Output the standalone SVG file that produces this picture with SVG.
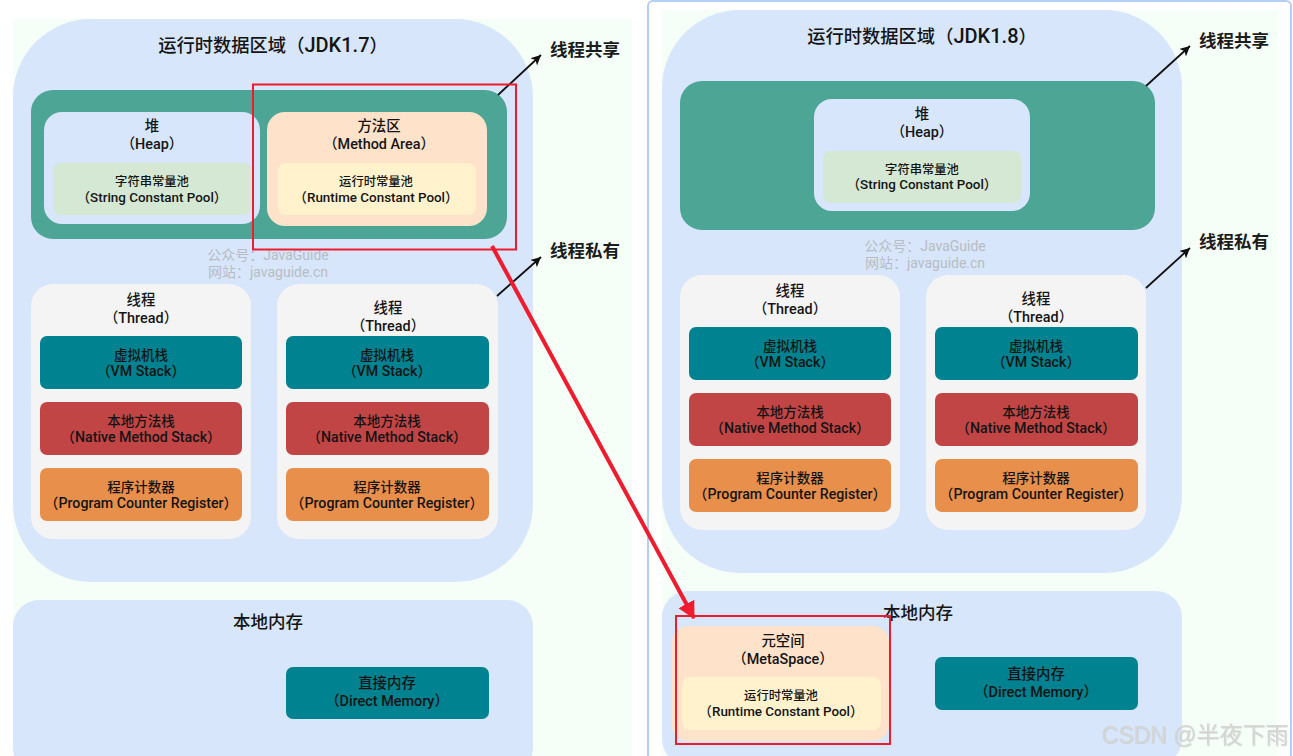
<svg xmlns="http://www.w3.org/2000/svg" width="1293" height="756" viewBox="0 0 1293 756">
<style>
text{font-family:Roboto,"Noto Sans CJK SC",sans-serif;font-weight:500;fill:#141414;text-anchor:middle}
.t{font-size:18.300px}.t tspan{font-size:20px}.l{font-size:17.500px;font-weight:700;text-anchor:start;fill:#1c1c1c}.h{font-size:14.400px}.s{font-size:12.300px}.sl{font-size:13.400px}.n{font-size:13.500px}.nl{font-size:14.200px}.m{font-size:17.500px}
.w{font-size:14px;fill:#b9bcc2;font-weight:400}
.bg{fill:#f5fff7}.o{fill:#d7e6fb}.g{fill:#4da595}.sp{fill:#d5e8d4}.or{fill:#ffe2ca}.ye{fill:#fff2cc}.th{fill:#f4f4f4}.vm{fill:#008290}.na{fill:#c24545}.pc{fill:#e98f4c}
.a{stroke:#111;stroke-width:1.800;fill:none;marker-end:url(#b)}
.r{fill:none;stroke:#ee1c2e;stroke-width:2}
</style>
<defs>
<marker id="b" markerUnits="userSpaceOnUse" markerWidth="12" markerHeight="12" refX="10" refY="5" orient="auto"><path d="M0 0L10 5L0 10L2.500 5Z" fill="#111"/></marker>
<marker id="rh" markerUnits="userSpaceOnUse" markerWidth="20" markerHeight="20" refX="16" refY="10" orient="auto"><path d="M0 1L17 10L0 19Z" fill="#ee1c2e"/></marker>
<filter id="sh" x="-5%" y="-20%" width="110%" height="140%"><feDropShadow dx="0.600" dy="0.600" stdDeviation="0.600" flood-color="#a8a8a8" flood-opacity="0.500"/></filter>
</defs>
<rect width="1293" height="756" fill="#fff"/>
<g id="left-panel">
<rect class="bg" x="13" y="19" width="619" height="737"/>
<rect class="o" x="13" y="19" width="520" height="563" rx="78"/>
<text class="t" x="273" y="52">运行时数据区域（<tspan>JDK1.7</tspan>）</text>
<text class="w" x="268" y="260">公众号：JavaGuide</text>
<text class="w" x="268" y="277">网站：javaguide.cn</text>
</g>
<g id="shared-17">
<rect class="g" x="31" y="90" width="476" height="149" rx="22"/>
</g>
<g id="heap-17">
<rect class="o" x="44" y="112" width="216" height="112" rx="18"/>
<text class="h" x="152" y="131">堆</text><text class="h" x="152" y="149">（Heap）</text>
<rect class="sp" x="53" y="163" width="198" height="52" rx="8"/>
<text class="s" x="152" y="186">字符串常量池</text><text class="sl" x="152" y="202">（String Constant Pool）</text>
</g>
<g id="method-17">
<rect class="or" x="267" y="112" width="220" height="114" rx="18"/>
<text class="h" x="379" y="131">方法区</text><text class="h" x="379" y="149">（Method Area）</text>
<rect class="ye" x="278" y="163" width="198" height="52" rx="8"/>
<text class="s" x="376" y="186">运行时常量池</text><text class="sl" x="376" y="202">（Runtime Constant Pool）</text>
</g>
<g id="thread-17-a">
<rect class="th" x="31" y="284" width="220" height="255" rx="22"/>
<text class="h" x="141" y="305">线程</text><text class="h" x="141" y="323">（Thread）</text>
<rect class="vm" x="40" y="336" width="202" height="53" rx="7"/>
<text class="n" x="141" y="360">虚拟机栈</text><text class="nl" x="141" y="375.500">（VM Stack）</text>
<rect class="na" x="40" y="402" width="202" height="53" rx="7"/>
<text class="n" x="141" y="426">本地方法栈</text><text class="nl" x="141" y="441.500">（Native Method Stack）</text>
<rect class="pc" x="40" y="468" width="202" height="53" rx="7"/>
<text class="n" x="141" y="492">程序计数器</text><text class="nl" x="141" y="507.500">（Program Counter Register）</text>
</g>
<g id="thread-17-b">
<rect class="th" x="277" y="284" width="221" height="255" rx="22"/>
<text class="h" x="388" y="313">线程</text><text class="h" x="388" y="331">（Thread）</text>
<rect class="vm" x="286" y="336" width="203" height="53" rx="7"/>
<text class="n" x="387" y="360">虚拟机栈</text><text class="nl" x="387" y="375.500">（VM Stack）</text>
<rect class="na" x="286" y="402" width="203" height="53" rx="7"/>
<text class="n" x="387" y="426">本地方法栈</text><text class="nl" x="387" y="441.500">（Native Method Stack）</text>
<rect class="pc" x="286" y="468" width="203" height="53" rx="7"/>
<text class="n" x="387" y="492">程序计数器</text><text class="nl" x="387" y="507.500">（Program Counter Register）</text>
</g>
<g id="native-17">
<rect class="o" x="13" y="600" width="520" height="174" rx="26"/>
<text class="m" x="268" y="628">本地内存</text>
<rect class="vm" x="286" y="667" width="203" height="52" rx="7"/>
<text class="h" x="387" y="688">直接内存</text><text class="h" x="387" y="706">（Direct Memory）</text>
</g>
<g id="right-panel">
<path d="M648 756V6a5 5 0 0 1 5-5H1286a5 5 0 0 1 5 5V756" fill="none" stroke="#b4cff5" stroke-width="2"/>
<rect class="bg" x="662" y="10" width="616" height="746"/>
<rect class="o" x="662" y="10" width="520" height="563" rx="78"/>
<text class="t" x="922" y="43">运行时数据区域（<tspan>JDK1.8</tspan>）</text>
<text class="w" x="925" y="251">公众号：JavaGuide</text>
<text class="w" x="925" y="268">网站：javaguide.cn</text>
</g>
<g id="shared-18">
<rect class="g" x="680" y="81" width="475" height="149" rx="22"/>
</g>
<g id="heap-18">
<rect class="o" x="814" y="99" width="216" height="112" rx="18"/>
<text class="h" x="922" y="119">堆</text><text class="h" x="922" y="137">（Heap）</text>
<rect class="sp" x="823" y="151" width="198" height="52" rx="8"/>
<text class="s" x="922" y="174">字符串常量池</text><text class="sl" x="922" y="189">（String Constant Pool）</text>
</g>
<g id="thread-18-a">
<rect class="th" x="680" y="275" width="220" height="255" rx="22"/>
<text class="h" x="790" y="296">线程</text><text class="h" x="790" y="314">（Thread）</text>
<rect class="vm" x="689" y="327" width="202" height="53" rx="7"/>
<text class="n" x="790" y="351">虚拟机栈</text><text class="nl" x="790" y="366.500">（VM Stack）</text>
<rect class="na" x="689" y="393" width="202" height="53" rx="7"/>
<text class="n" x="790" y="417">本地方法栈</text><text class="nl" x="790" y="432.500">（Native Method Stack）</text>
<rect class="pc" x="689" y="459" width="202" height="53" rx="7"/>
<text class="n" x="790" y="483">程序计数器</text><text class="nl" x="790" y="498.500">（Program Counter Register）</text>
</g>
<g id="thread-18-b">
<rect class="th" x="926" y="275" width="220" height="255" rx="22"/>
<text class="h" x="1036" y="304">线程</text><text class="h" x="1036" y="322">（Thread）</text>
<rect class="vm" x="935" y="327" width="203" height="53" rx="7"/>
<text class="n" x="1036" y="351">虚拟机栈</text><text class="nl" x="1036" y="366.500">（VM Stack）</text>
<rect class="na" x="935" y="393" width="203" height="53" rx="7"/>
<text class="n" x="1036" y="417">本地方法栈</text><text class="nl" x="1036" y="432.500">（Native Method Stack）</text>
<rect class="pc" x="935" y="459" width="203" height="53" rx="7"/>
<text class="n" x="1036" y="483">程序计数器</text><text class="nl" x="1036" y="498.500">（Program Counter Register）</text>
</g>
<g id="native-18">
<rect class="o" x="662" y="591" width="520" height="174" rx="26"/>
<text class="m" x="918" y="619">本地内存</text>
</g>
<g id="metaspace">
<rect class="or" x="672" y="626" width="217" height="115" rx="16"/>
<text class="h" x="783" y="646">元空间</text><text class="h" x="783" y="664">（MetaSpace）</text>
<rect class="ye" x="682" y="677" width="199" height="53" rx="8"/>
<text class="s" x="781" y="700">运行时常量池</text><text class="sl" x="781" y="716">（Runtime Constant Pool）</text>
</g>
<g id="direct-18">
<rect class="vm" x="935" y="657" width="203" height="53" rx="7"/>
<text class="h" x="1036" y="679">直接内存</text><text class="h" x="1036" y="697">（Direct Memory）</text>
</g>
<g id="labels">
<text class="l" x="550" y="56">线程共享</text>
<text class="l" x="550" y="257">线程私有</text>
<text class="l" x="1199" y="47">线程共享</text>
<text class="l" x="1199" y="248">线程私有</text>
</g>
<g id="connectors">
<path class="a" d="M498 95L541 55"/>
<path class="a" d="M497 296L541 257"/>
<path class="a" d="M1146 86L1190 46"/>
<path class="a" d="M1146 288L1190 248"/>
<rect class="r" x="253" y="84.500" width="263" height="165"/>
<rect class="r" x="676" y="616" width="214" height="128"/>
<path d="M492 246L694 618" fill="none" stroke="#ee1c2e" stroke-width="4" marker-end="url(#rh)"/>
</g>
<text x="1195" y="743" filter="url(#sh)" style="font-family:'Liberation Sans','Noto Sans CJK SC',sans-serif;font-size:23px;font-weight:400;fill:#d6d6d6">CSDN @半夜下雨</text>
</svg>
